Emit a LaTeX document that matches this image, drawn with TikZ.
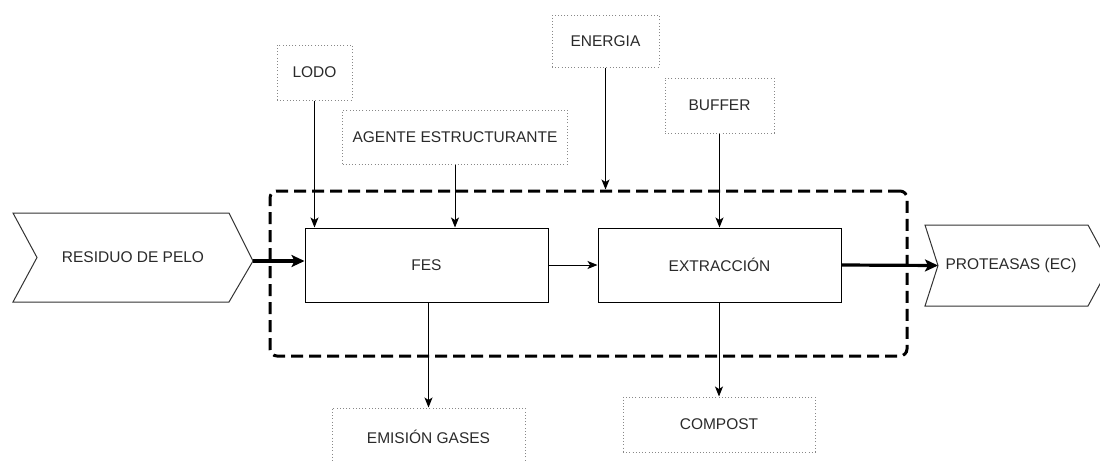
\documentclass[tikz,border=0pt]{standalone}
\usepackage{fontspec}
\setmainfont{Liberation Sans}
\usetikzlibrary{arrows.meta}
\definecolor{txt}{HTML}{2A2A2A}
\definecolor{dotgray}{HTML}{888888}
\begin{document}
\begin{tikzpicture}[x=1pt,y=-1pt,
  lbl/.style={text=txt, font=\fontsize{15.5}{18}\selectfont},
  procbox/.style={lbl, draw=black, line width=1pt, minimum width=243pt, minimum height=74pt, inner sep=0pt},
  flowbox/.style={lbl, draw=dotgray, line width=1pt, dash pattern=on 1pt off 2.2pt, inner sep=0pt},
  system/.style={draw=black, line width=3pt, dash pattern=on 12pt off 6pt, rounded corners=7pt, inner sep=0pt},
  chev/.style={draw=black!80, line width=1pt, fill=white, line join=miter},
  thinarrow/.style={draw=black, line width=1pt, -{Stealth[length=10pt,width=8pt,inset=2.5pt]}},
  thickarrow/.style={draw=black, line width=3.2pt, -{Stealth[length=13pt,width=12pt,inset=3pt]}}
]
\useasboundingbox (0,0) rectangle (1100,461);

% process boundary
\node[system, minimum width=637pt, minimum height=165pt] (sys) at (588.5,273.5) {};

% process steps
\node[procbox] (fes) at (426.5,265) {FES};
\node[procbox] (ext) at (719.5,265) {EXTRACCIÓN};

% input and output chevrons
\draw[chev] (13,213) -- (229,213) -- (253,261) -- (229,302) -- (13,302) -- (37,257.5) -- cycle;
\coordinate (restip) at (253,261);
\node[lbl] (residuo) at (133,257.5) {RESIDUO DE PELO};

\draw[chev] (925,225) -- (1088,225) -- (1110,265.5) -- (1088,306) -- (925,306) -- (938,265.5) -- cycle;
\coordinate (pronotch) at (938,265.5);
\node[lbl] (proteasas) at (1011,265.5) {PROTEASAS (EC)};

% auxiliary flows
\node[flowbox, minimum width=75pt, minimum height=55pt] (lodo) at (314.5,72.5) {LODO};
\node[flowbox, minimum width=225pt, minimum height=54pt] (agente) at (455,137) {AGENTE ESTRUCTURANTE};
\node[flowbox, minimum width=107pt, minimum height=52pt] (energia) at (605.5,41) {ENERGIA};
\node[flowbox, minimum width=109pt, minimum height=55pt] (buffer) at (719.5,105.5) {BUFFER};
\node[flowbox, minimum width=193pt, minimum height=58pt] (gases) at (428.5,437) {EMISIÓN GASES};
\node[flowbox, minimum width=192pt, minimum height=55pt] (compost) at (719,424.5) {COMPOST};

% connectors
\draw[thickarrow] (restip) -- (restip -| fes.west);
\draw[thinarrow] (fes.east) -- (ext.west);
\draw[thickarrow] (ext.east) -- (pronotch);
\draw[thinarrow] (lodo.south) -- (lodo.south |- fes.north);
\draw[thinarrow] (agente.south) -- (agente.south |- fes.north);
\draw[thinarrow] (energia.south) -- (energia.south |- sys.north);
\draw[thinarrow] (buffer.south) -- (buffer.south |- ext.north);
\draw[thinarrow] (fes.south -| gases.north) -- (gases.north);
\draw[thinarrow] (ext.south -| compost.north) -- (compost.north);
\end{tikzpicture}
\end{document}
